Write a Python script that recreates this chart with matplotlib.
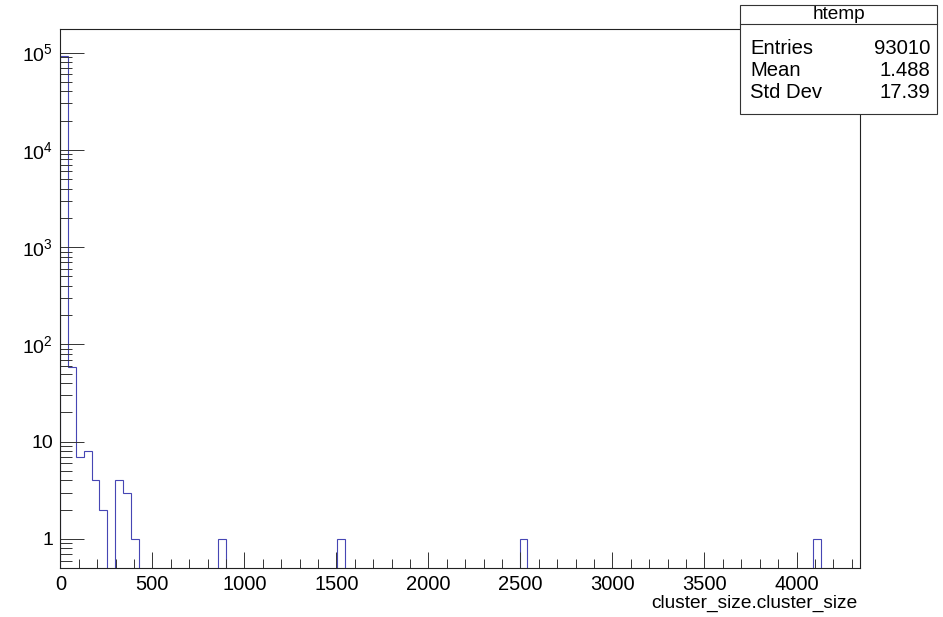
import numpy as np
import matplotlib
matplotlib.use("Agg")
import matplotlib.pyplot as plt
from matplotlib.patches import Rectangle
from matplotlib.lines import Line2D
from matplotlib.ticker import LogLocator, FuncFormatter, MultipleLocator

plt.rcParams['font.family'] = ['Liberation Sans', 'DejaVu Sans']

# histogram binning (htemp)
N_BINS = 101
X_LOW = -3.07
X_HIGH = 4347.0

# non-empty bins: bin index -> entries
filled_bins = [0, 1, 2, 3, 4, 5, 7, 8, 9, 20, 35, 58, 95]
bin_counts = [92919, 58, 7, 8, 4, 2, 4, 3, 1, 1, 1, 1, 1]

x_label = "cluster_size.cluster_size"
stats_title = "htemp"
stats_names = ["Entries", "Mean", "Std Dev"]
stats_values = ["93010", "1.488", "17.39"]

W, H = 943, 617


def fx(px):
    return px / W


def fy(py):
    return 1 - py / H


edges = np.linspace(X_LOW, X_HIGH, N_BINS + 1)
counts = np.zeros(N_BINS)
counts[filled_bins] = bin_counts
# empty bins drop below the frame on a log axis
drawn = np.where(counts > 0, counts, 1e-3)

fig = plt.figure(figsize=(W / 100, H / 100), dpi=100)
ax = fig.add_axes([fx(60), fy(568), fx(860 - 60), (568 - 29) / H])

ax.stairs(drawn, edges, baseline=1e-3, color="#4646b4", lw=0.8)

ax.set_yscale("log")
ax.set_xlim(X_LOW + 1, X_HIGH - 2)
ax.set_ylim(0.503, 1.75e5)

ax.xaxis.set_major_locator(MultipleLocator(500))
ax.xaxis.set_minor_locator(MultipleLocator(100))
ax.yaxis.set_major_locator(LogLocator(base=10, numticks=20))
ax.yaxis.set_minor_locator(LogLocator(base=10, subs=np.arange(2, 10), numticks=20))


def ylab(v, pos):
    if v == 1:
        return "1"
    if v == 10:
        return "10"
    return r"$\mathregular{10^{%d}}$" % int(round(np.log10(v)))


ax.yaxis.set_major_formatter(FuncFormatter(ylab))

ax.tick_params(axis="x", which="major", direction="in", length=11.5, width=0.7,
               color="#333333", labelsize=14.5, pad=5, top=False)
ax.tick_params(axis="x", which="minor", direction="in", length=6.5, width=0.7,
               color="#333333", top=False)
ax.tick_params(axis="y", which="major", direction="in", length=17.3, width=0.7,
               color="#333333", labelsize=14, pad=5, right=False)
ax.tick_params(axis="y", which="minor", direction="in", length=8.6, width=0.7,
               color="#333333", right=False)
for s in ax.spines.values():
    s.set_linewidth(0.8)
    s.set_color("#222222")

fig.text(fx(858), fy(595), x_label, ha="right", va="top", fontsize=13.8)

# stats box
box_l, box_r, box_t, box_b, box_sep = 740, 937, 5, 114, 24.3
fig.add_artist(Rectangle((fx(box_l), fy(box_b)), fx(box_r - box_l), (box_b - box_t) / H,
                         transform=fig.transFigure, facecolor="white",
                         edgecolor="#333333", lw=0.8, zorder=5))
fig.add_artist(Line2D([fx(box_l), fx(box_r)], [fy(box_sep), fy(box_sep)],
                      transform=fig.transFigure, color="#333333", lw=0.8, zorder=6))
fig.text(fx((box_l + box_r) / 2), fy(14.5), stats_title, ha="center", va="center",
         fontsize=13.7, zorder=7)
for i, (name, val) in enumerate(zip(stats_names, stats_values)):
    y = fy(48.5 + i * 22)
    fig.text(fx(750), y, name, ha="left", va="center", fontsize=14.6, zorder=7)
    fig.text(fx(930), y, val, ha="right", va="center", fontsize=14.6, zorder=7)

fig.savefig("out.png", dpi=100)
